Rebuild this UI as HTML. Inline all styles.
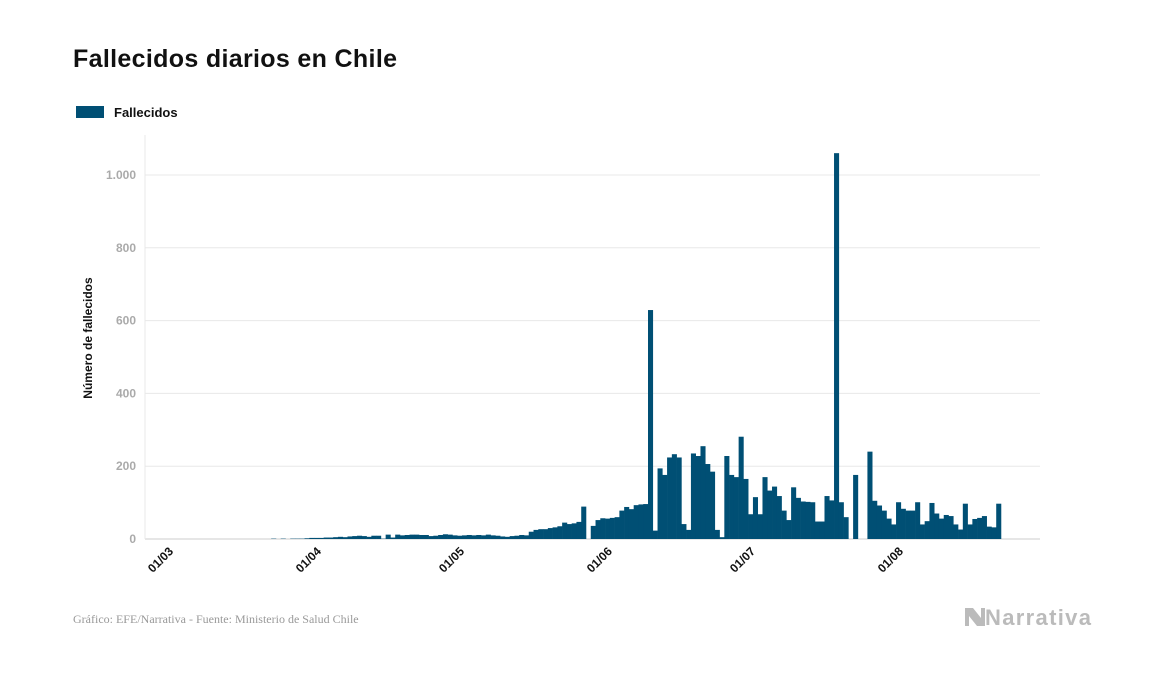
<!DOCTYPE html>
<html><head><meta charset="utf-8"><style>
body{margin:0;background:#fff;width:1157px;height:674px;overflow:hidden;font-family:"Liberation Sans",sans-serif}
</style></head><body>
<svg width="1157" height="674">
<text x="73" y="67" font-size="25" font-weight="bold" fill="#111" textLength="324">Fallecidos diarios en Chile</text>
<rect x="76" y="106" width="28" height="12" fill="#004f74"/>
<text x="114" y="117" font-size="13" font-weight="bold" fill="#111">Fallecidos</text>
<text transform="translate(92,338) rotate(-90)" text-anchor="middle" font-size="12" font-weight="bold" fill="#111">Número de fallecidos</text>
<g id="grid"></g><g id="bars"></g><g id="xt"></g>
<text x="73" y="623" font-family="Liberation Serif,serif" font-size="12" fill="#999">Gráfico: EFE/Narrativa - Fuente: Ministerio de Salud Chile</text>
<g>
<path d="M965 608 l8 0 l8 10 l0 -10 l4 0 l0 18 l-8 0 l-8 -10 l0 10 l-4 0z" fill="#bbb"/>
<text x="985" y="625" font-size="22" font-weight="bold" fill="#bbb" textLength="106">Narrativa</text>
</g>
</svg>
<script>
const values=[0,0,0,0,0,0,0,0,0,0,0,0,0,0,0,0,0,0,0,0,0,
1,0,1,0,1,1,1,2,3,
3,3,4,4,5,6,5,7,8,9,8,
6,9,9,1,12,4,12,10,11,12,
12,11,11,8,9,11,13,12,10,9,
10,11,10,11,10,12,10,9,7,6,
8,9,11,10,20,25,27,27,30,32,35,45,41,43,47,89,0,
36,52,57,56,58,60,78,88,82,93,95,96,629,23,194,176,224,233,224,41,25,235,228,255,206,185,25,5,228,176,170,281,165,68,115,68,170,133,144,118,78,52,142,113,103,102,101,48,48,118,106,1060,101,60,0,176,0,0,240,105,92,78,56,40,101,83,78,78,101,40,49,99,70,56,66,63,40,26,97,40,55,58,63,34,32,97];
const yTicks=[0,200,400,600,800,1000];
const yTickLabels=["0","200","400","600","800","1.000"];
const xTickDays=[0,31,61,92,122,153];
const xTickLabels=["01/03","01/04","01/05","01/06","01/07","01/08"];
const NS="http://www.w3.org/2000/svg";
const x0=171,dw=4.77,yb=539,ys=0.364;
const X=d=>x0+d*dw, Y=v=>yb-v*ys;
const g=document.getElementById('grid'),b=document.getElementById('bars'),xt=document.getElementById('xt');
yTicks.forEach((t,i)=>{
 const l=document.createElementNS(NS,'line');
 l.setAttribute('x1',145);l.setAttribute('x2',1040);l.setAttribute('y1',Y(t));l.setAttribute('y2',Y(t));
 l.setAttribute('stroke',i==0?'#ccc':'#e8e8e8');
 
 
 g.appendChild(l);
 const tx=document.createElementNS(NS,'text');
 tx.setAttribute('x',136);tx.setAttribute('y',Y(t)+4);tx.setAttribute('text-anchor','end');
 tx.setAttribute('font-size','12');tx.setAttribute('font-weight','bold');tx.setAttribute('fill','#aaa');
 tx.textContent=yTickLabels[i];
 
 
 g.appendChild(tx);
});
const vl=document.createElementNS(NS,'line');
vl.setAttribute('x1',145);vl.setAttribute('x2',145);vl.setAttribute('y1',135);vl.setAttribute('y2',539);vl.setAttribute('stroke','#e8e8e8');


g.appendChild(vl);
values.forEach((v,d)=>{
 if(!v)return;
 const r=document.createElementNS(NS,'rect');
 r.setAttribute('x',X(d));r.setAttribute('width',dw+0.3);r.setAttribute('y',Y(v));r.setAttribute('height',v*ys);
 r.setAttribute('fill','#004f74');
 
 
 b.appendChild(r);
});
xTickDays.forEach((d,i)=>{
 const tx=document.createElementNS(NS,'text');
 const x=X(d)+3,y=552;
 tx.setAttribute('transform','translate('+x+','+y+') rotate(-45)');
 tx.setAttribute('text-anchor','end');tx.setAttribute('font-size','12');tx.setAttribute('font-weight','bold');tx.setAttribute('fill','#111');
 tx.textContent=xTickLabels[i];
 
 
 xt.appendChild(tx);
});
</script>
</body></html>
